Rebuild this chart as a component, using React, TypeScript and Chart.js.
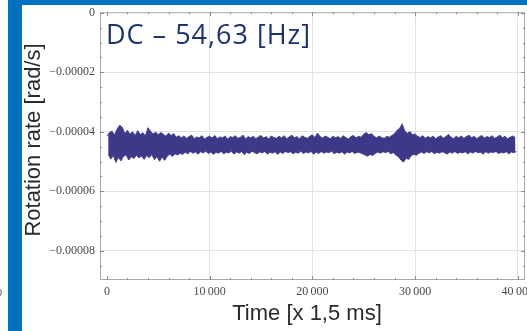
import React, { useEffect, useRef } from "react";
import { Chart, registerables } from "chart.js";

Chart.register(...registerables);

// Noise envelope of the rotation-rate signal (units: 1e-6 rad/s),
// one value per 250 time units, from 0 to 39 750.
const upperMicro = [
  -41.5, -40.2, -39.8, -41.0, -39.0, -37.8, -38.5, -40.6, -39.5, -40.8,
  -40.0, -41.2, -39.6, -40.9, -40.3, -41.3, -38.6, -39.8, -40.7, -40.1,
  -41.0, -40.2, -40.8, -41.5, -40.4, -41.2, -40.6, -41.8, -41.3, -42.0,
  -41.4, -42.2, -41.6, -41.1, -42.3, -41.7, -42.0, -41.3, -42.4, -41.8,
  -41.5, -42.1, -41.2, -42.3, -41.7, -42.0, -41.4, -42.5, -41.6, -41.9,
  -41.3, -42.2, -41.8, -41.1, -42.4, -41.6, -42.0, -41.5, -42.3, -41.7,
  -41.2, -42.1, -41.6, -42.4, -41.4, -41.9, -42.2, -41.5, -42.0, -41.3,
  -42.3, -41.7, -41.1, -42.0, -41.6, -42.4, -41.3, -41.8, -42.2, -41.5,
  -41.0, -41.9, -40.4, -41.6, -42.1, -41.4, -41.8, -42.3, -41.5, -42.0,
  -41.6, -42.2, -41.3, -41.9, -42.4, -41.6, -41.2, -42.0, -41.5, -41.8,
  -40.8, -40.2, -41.0, -40.6, -41.5, -42.0, -41.4, -41.9, -42.2, -41.5,
  -41.8, -41.2, -40.6, -39.5, -38.8, -37.3, -39.8, -40.5, -39.9, -41.0,
  -40.7, -41.5, -41.9, -41.3, -42.2, -41.6, -42.0, -41.4, -42.3, -41.7,
  -41.3, -42.1, -41.6, -40.9, -41.8, -42.3, -41.5, -42.0, -41.4, -42.2,
  -41.6, -41.1, -42.0, -41.5, -42.3, -41.7, -41.2, -42.1, -41.6, -41.9,
  -41.3, -42.2, -41.7, -41.1, -42.0, -41.5, -42.3, -41.8, -41.4, -41.9,
];
const lowerMicro = [
  -47.5, -49.2, -48.0, -50.3, -48.6, -49.8, -48.2, -47.8, -49.5, -48.4,
  -49.0, -47.9, -48.8, -48.1, -49.3, -48.0, -48.7, -47.6, -49.4, -48.3,
  -49.9, -48.5, -49.6, -48.2, -47.5, -48.3, -47.4, -47.8, -47.2, -47.6,
  -46.9, -47.4, -46.6, -47.2, -46.8, -47.5, -46.7, -47.1, -46.5, -47.3,
  -46.8, -47.6, -46.9, -47.2, -46.6, -47.4, -46.9, -47.1, -46.5, -47.5,
  -46.8, -47.2, -46.6, -47.7, -46.9, -47.3, -46.5, -47.0, -47.4, -46.8,
  -47.1, -46.6, -47.5, -46.9, -47.2, -46.7, -47.6, -46.8, -47.3, -46.6,
  -47.0, -46.7, -47.4, -46.9, -47.2, -46.5, -47.3, -46.8, -47.1, -46.6,
  -47.5, -46.9, -47.3, -46.6, -47.2, -46.8, -47.0, -46.5, -47.4, -46.9,
  -47.2, -46.7, -47.5, -46.8, -47.1, -46.6, -47.3, -46.9, -47.0, -47.4,
  -47.8, -48.2, -47.6, -48.0, -47.3, -46.8, -47.2, -46.7, -47.0, -46.6,
  -47.4, -47.0, -47.8, -48.4, -49.5, -50.2, -48.9, -49.3, -48.0, -47.6,
  -47.9, -47.2, -46.8, -47.3, -46.7, -47.1, -46.6, -47.4, -46.9, -47.2,
  -46.7, -47.0, -47.5, -46.8, -47.2, -46.6, -47.3, -46.9, -47.1, -46.7,
  -47.4, -46.8, -47.2, -46.6, -47.0, -46.9, -47.5, -46.7, -47.2, -46.8,
  -47.0, -46.6, -47.3, -46.9, -47.1, -46.7, -47.4, -46.8, -47.0, -46.6,
];
const segmentLength = 250; // time units between envelope samples

const xMajorTicks = [0, 10000, 20000, 30000, 40000];
const xTickLabels = ["0", "10\u2009000", "20\u2009000", "30\u2009000", "40\u2009000"];
const xMinorTicks = [
  2000, 4000, 6000, 8000, 12000, 14000, 16000, 18000, 22000, 24000, 26000, 28000,
  32000, 34000, 36000, 38000,
];
const yMajorTicks = [0, -0.00002, -0.00004, -0.00006, -0.00008];
const yTickLabels = ["0", "\u22120.00002", "\u22120.00004", "\u22120.00006", "\u22120.00008"];
const yMinorTicks = [
  -0.000005, -0.00001, -0.000015, -0.000025, -0.00003, -0.000035, -0.000045, -0.00005,
  -0.000055, -0.000065, -0.00007, -0.000075, -0.000085,
];

const X_MIN = -670;
const X_MAX = 40700;
const Y_MIN = -0.0000898;
const Y_MAX = 0.0000002;

const framePlugin = {
  id: "frameTicks",
  afterDraw(chart: any) {
    const { ctx, chartArea: a, scales } = chart;
    const xs = scales.x;
    const ys = scales.y;
    ctx.save();
    ctx.strokeStyle = "#a9a9a9";
    ctx.lineWidth = 1;
    ctx.strokeRect(a.left + 0.5, a.top + 0.5, a.right - a.left - 1, a.bottom - a.top - 1);
    ctx.strokeStyle = "#8a8a8a";
    ctx.beginPath();
    const xt = (v: number, len: number) => {
      const px = Math.round(xs.getPixelForValue(v)) + 0.5;
      ctx.moveTo(px, a.bottom);
      ctx.lineTo(px, a.bottom - len);
      ctx.moveTo(px, a.top);
      ctx.lineTo(px, a.top + len);
    };
    const yt = (v: number, len: number) => {
      const py = Math.round(ys.getPixelForValue(v)) + 0.5;
      ctx.moveTo(a.left, py);
      ctx.lineTo(a.left + len, py);
      ctx.moveTo(a.right, py);
      ctx.lineTo(a.right - len, py);
    };
    xMajorTicks.forEach((v) => xt(v, 4));
    xMinorTicks.forEach((v) => xt(v, 2));
    yMajorTicks.forEach((v) => yt(v, 4));
    yMinorTicks.forEach((v) => yt(v, 2));
    ctx.stroke();
    ctx.restore();
  },
};

export default function App() {
  const canvasRef = useRef<HTMLCanvasElement | null>(null);

  useEffect(() => {
    if (!canvasRef.current) return;
    const upperPoints = upperMicro.map((v, i) => ({ x: i * segmentLength, y: v * 1e-6 }));
    const lowerPoints = lowerMicro.map((v, i) => ({
      x: i * segmentLength + segmentLength / 2,
      y: v * 1e-6,
    }));

    const chart = new Chart(canvasRef.current, {
      type: "line",
      data: {
        datasets: [
          {
            data: upperPoints,
            borderColor: "rgba(62,58,138,0.85)",
            borderWidth: 1,
            pointRadius: 0,
            tension: 0,
            fill: false,
          },
          {
            data: lowerPoints,
            borderColor: "rgba(62,58,138,0.85)",
            backgroundColor: "#3d3988",
            borderWidth: 1,
            pointRadius: 0,
            tension: 0,
            fill: "-1",
          },
        ],
      },
      options: {
        animation: false,
        responsive: false,
        maintainAspectRatio: false,
        parsing: false,
        layout: { padding: { top: 12, right: 2, left: 0, bottom: 0 } },
        plugins: { legend: { display: false }, tooltip: { enabled: false } },
        scales: {
          x: {
            type: "linear",
            min: X_MIN,
            max: X_MAX,
            afterBuildTicks: (s: any) => {
              s.ticks = xMajorTicks.map((v) => ({ value: v }));
            },
            afterFit: (s: any) => {
              s.height = 51;
              s.paddingLeft = 0;
              s.paddingRight = 0;
            },
            ticks: {
              autoSkip: false,
              maxRotation: 0,
              padding: 5,
              color: "#4a4a4a",
              font: { family: "Liberation Serif", size: 12 },
              callback: (v: any) => {
                const i = xMajorTicks.indexOf(Number(v));
                return i >= 0 ? xTickLabels[i] : "";
              },
            },
            grid: {
              drawTicks: false,
              color: (c: any) => (c.tick && c.tick.value === 0 ? "rgba(0,0,0,0)" : "#e2e2e2"),
            },
            border: { display: false },
          },
          y: {
            type: "linear",
            min: Y_MIN,
            max: Y_MAX,
            afterBuildTicks: (s: any) => {
              s.ticks = yMajorTicks.map((v) => ({ value: v }));
            },
            afterFit: (s: any) => {
              s.width = 100;
            },
            ticks: {
              autoSkip: false,
              padding: 5,
              color: "#4a4a4a",
              font: { family: "Liberation Serif", size: 12 },
              callback: (v: any) => {
                const i = yMajorTicks.findIndex((m) => Math.abs(m - Number(v)) < 1e-12);
                return i >= 0 ? yTickLabels[i] : "";
              },
            },
            grid: {
              drawTicks: false,
              color: (c: any) => (c.tick && c.tick.value === 0 ? "rgba(0,0,0,0)" : "#e2e2e2"),
            },
            border: { display: false },
          },
        },
      },
      plugins: [framePlugin],
    });
    return () => chart.destroy();
  }, []);

  return (
    <div
      style={{
        position: "absolute",
        left: 0,
        top: 0,
        width: 527,
        height: 331,
        background: "#ffffff",
        overflow: "hidden",
      }}
    >
      <canvas
        ref={canvasRef}
        width={527}
        height={331}
        style={{ position: "absolute", left: 0, top: 0, width: 527, height: 331 }}
      />
      <div style={{ position: "absolute", left: 8, top: 0, width: 14, height: 331, background: "#0070c0" }} />
      <div style={{ position: "absolute", left: 22, top: 0, width: 505, height: 5, background: "#0070c0" }} />
      <div
        style={{
          position: "absolute",
          left: -3,
          top: 287,
          fontFamily: "Liberation Serif",
          fontSize: 10,
          color: "#4a4a4a",
          lineHeight: "12px",
        }}
      >
        0
      </div>
      <div
        style={{
          position: "absolute",
          left: 106,
          top: 17,
          fontFamily: "Open Sans",
          fontSize: 27,
          lineHeight: "34px",
          letterSpacing: "1px",
          color: "#1b3470",
          whiteSpace: "nowrap",
        }}
      >
        DC – 54,63 [Hz]
      </div>
      <div
        style={{
          position: "absolute",
          left: 33,
          top: 139.5,
          transform: "translate(-50%, -50%) rotate(-90deg)",
          fontFamily: "Liberation Sans",
          fontSize: 22,
          lineHeight: "24px",
          color: "#2a2a2a",
          whiteSpace: "nowrap",
        }}
      >
        Rotation rate [rad/s]
      </div>
      <div
        style={{
          position: "absolute",
          left: 307,
          top: 313,
          transform: "translate(-50%, -50%)",
          fontFamily: "Liberation Sans",
          fontSize: 22,
          lineHeight: "24px",
          color: "#2a2a2a",
          whiteSpace: "nowrap",
        }}
      >
        Time [x 1,5 ms]
      </div>
    </div>
  );
}
